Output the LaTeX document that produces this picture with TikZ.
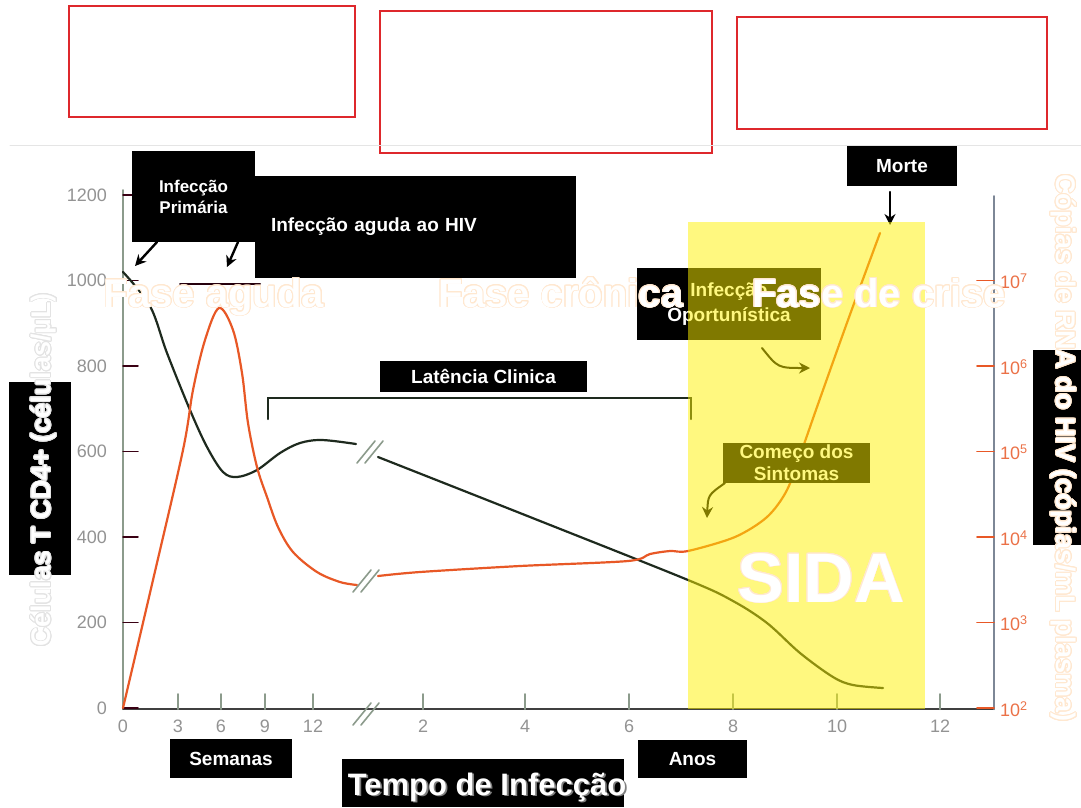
\documentclass[tikz,border=0pt]{standalone}
\usepackage{fontspec}
\setmainfont{Liberation Sans}
\usepackage[copies]{contour}
\usetikzlibrary{arrows.meta}

\definecolor{cdline}{RGB}{30,42,30}
\definecolor{rnaline}{RGB}{232,88,38}
\definecolor{axgray}{RGB}{140,155,140}
\definecolor{rnaaxis}{RGB}{125,135,150}
\definecolor{peach}{RGB}{255,232,208}
\definecolor{boxred}{RGB}{222,40,44}
\contourlength{0.9pt}
\newcommand{\shadowed}[1]{\makebox[0pt][l]{\hspace{1.8pt}\raisebox{-1.8pt}{\color{gray}#1}}#1}

\begin{document}
\begin{tikzpicture}[x=1pt, y=-1pt, line cap=round,
      every node/.append style={inner sep=0pt, outer sep=0pt},
      blackbox/.style={fill=black, text=white, align=center, font=\bfseries\fontsize{19}{22}\selectfont},
      phase/.style={anchor=base, text=white, font=\bfseries\fontsize{40}{44}\selectfont},
      ticklab/.style={text=gray!85, font=\fontsize{18}{20}\selectfont},
      pointer/.style={-{Stealth[length=11pt,width=11pt]}, line width=2.4pt, black}]
    \tikzstyle{axtick} = [axgray, line width=2pt]
    \tikzstyle{breakmark} = [axgray, line width=1.6pt]
    \useasboundingbox (0,0) rectangle (1081,807);
    \fill[white] (0,0) rectangle (1081,807);

    \draw[boxred, line width=1.2pt] (69,6) rectangle (355,117);
    \draw[boxred, line width=1.2pt] (380,11) rectangle (712,153);
    \draw[boxred, line width=1.2pt] (737,17) rectangle (1047,129);
    \draw[gray!20, line width=1pt] (10,145) -- (1081,145);

    \draw[axgray, line width=2pt] (123,190) -- (123,709);
    \draw[black!75, line width=1.5pt] (123,709) -- (994,709);
    \draw[rnaaxis, line width=2pt] (994,196) -- (994,709);
    \foreach \v/\lab in {0/0,1/200,2/400,3/600,4/800,5/1000,6/1200} {
      \draw[black!70!purple, line width=1.5pt] (123,{708-85.5*\v}) -- (138,{708-85.5*\v});
      \node[ticklab, anchor=east] (ylab_\v) at (107,{708-85.5*\v}) {\lab};
    }
    \node[ticklab] (xlab_zero) at (123,726) {0};
    \foreach \x/\lab in {178/3,221/6,265/9,313/12,423/2,525/4,629/6,733/8,837/10,940/12} {
      \draw[axtick] (\x,709) -- (\x,694);
      \node[ticklab] (xlab_\x) at (\x,726) {\lab};
    }
    \foreach \k in {2,...,7} {
      \draw[rnaline, line width=1.6pt] (977,{708-85.5*(\k-2)}) -- (994,{708-85.5*(\k-2)});
      \node[ticklab, text=rnaline!85, anchor=west] (rlab_\k) at (1000,{709-85.5*(\k-2)}) {10\textsuperscript{\k}};
    }

    \draw[cdline, line width=2.2pt] plot[smooth, tension=0.55] coordinates {(123,272) (150,306) (167,353) (190,410) (207,447) (223,472) (237,477) (257,470) (280,453) (300,443) (322,440) (356,444)};
    \draw[cdline, line width=2.2pt] plot[smooth, tension=0.55] coordinates {(378,457) (530,517) (688,580) (733,601) (767,623) (800,653) (833,677) (853,685) (883,688)};
    \draw[rnaline, line width=2.2pt] plot[smooth, tension=0.55] coordinates {(123,708) (153,580) (183,450) (193,390) (205,340) (219,308) (233,330) (242,373) (248,423) (257,467) (267,497) (278,527) (293,552) (317,572) (340,582) (357,585)};
    \draw[rnaline, line width=2.2pt] plot[smooth, tension=0.5] coordinates {(378,576) (420,572) (520,566) (628,561) (650,554) (670,551) (688,551) (735,537) (767,517) (787,490) (803,447) (817,407) (848,320) (880,233)};
    \foreach \cx/\cy in {366/714, 370/452, 366/581}
      \foreach \dx in {-4,4}
        \draw[breakmark] ({\cx+\dx-9},{\cy+11}) -- ({\cx+\dx+9},{\cy-11});

    \node[blackbox, minimum width=123, minimum height=91, font=\bfseries\fontsize{17}{21}\selectfont] (prim) at (193.5,196.5) {Infecção\\Primária};
    \node[blackbox, anchor=north west, minimum width=321, minimum height=102, text width=289, align=left, inner xsep=16] (aguda) at (255,176) {Infecção aguda ao HIV};
    \coordinate (cd4_tip) at (135,266);
    \coordinate (rna_tip) at (227,267);
    \draw[pointer] ([xshift=25pt]prim.south west) -- (cd4_tip);
    \draw[pointer] ([xshift=-17pt]prim.south east) -- (rna_tip);
    \draw[black!80!purple, line width=2pt] (180,284) -- (260,284);

    \node[blackbox, minimum width=207, minimum height=31] (latencia) at (483.5,376.5) {Latência Clinica};
    \draw[cdline, line width=2pt] (268,419) -- (268,398) -- (691,398) -- (691,419);

    \node[blackbox, minimum width=184, minimum height=72, font=\bfseries\fontsize{19}{25}\selectfont] (oport) at (729,304) {Infecção\\Oportunística};
    \coordinate (oport_tip) at (810,368);
    \draw[pointer, line width=2pt] ([xshift=33pt,yshift=-8pt]oport.south) .. controls (778,368) .. (oport_tip);

    \node[blackbox, minimum width=110, minimum height=40] (morte) at (902,166) {Morte};
    \coordinate (morte_tip) at (890,225);
    \draw[pointer] ([xshift=-12pt,yshift=-6pt]morte.south) -- (morte_tip);

    \node[blackbox, minimum width=147, minimum height=40] (comeco) at (796.5,463) {Começo dos\\Sintomas};
    \coordinate (comeco_tip) at (707,518);
    \draw[pointer, line width=2pt] ([xshift=2pt]comeco.south west) .. controls (708,495) .. (comeco_tip);

    \node[blackbox, minimum width=122, minimum height=39] (semanas) at (231,758.5) {Semanas};
    \node[blackbox, minimum width=109, minimum height=38] (anos) at (692.5,759) {Anos};
    \node[fill=black, minimum width=282, minimum height=48] (tempo_box) at (483,783) {};
    \node[anchor=base, text=white, font=\bfseries\fontsize{31}{34}\selectfont] (tempo) at (487,795) {\shadowed{Tempo de Infecção}};

    \node[fill=black, minimum width=62, minimum height=193] (cd4_box) at (40,478.5) {};
    \node[rotate=90, text=white, font=\bfseries\fontsize{27}{30}\selectfont] (cd4_label) at (44,470) {\contour{gray!22}{Células T CD4+ (células/µL)}};
    \node[fill=black, minimum width=48, minimum height=195] (rna_box) at (1057,447.5) {};
    \node[rotate=-90, text=white, font=\bfseries\fontsize{27}{30}\selectfont] (rna_label) at (1063,448) {\contour{peach}{Cópias de RNA do HIV (cópias/mL plasma)}};

    \fill[yellow, opacity=0.5] (688,222) rectangle (925,709);

    \node[phase] (fase_aguda) at (214,307) {\contour{peach}{Fase aguda}};
    \node[phase] (fase_cronica) at (561,307) {\contour{peach}{Fase crônica}};
    \node[phase] (fase_crise) at (879,307) {\contour{peach}{Fase de crise}};
    \node[phase, font=\bfseries\fontsize{70}{76}\selectfont] (sida) at (821,602) {\contour{peach}{SIDA}};
\end{tikzpicture}
\end{document}
